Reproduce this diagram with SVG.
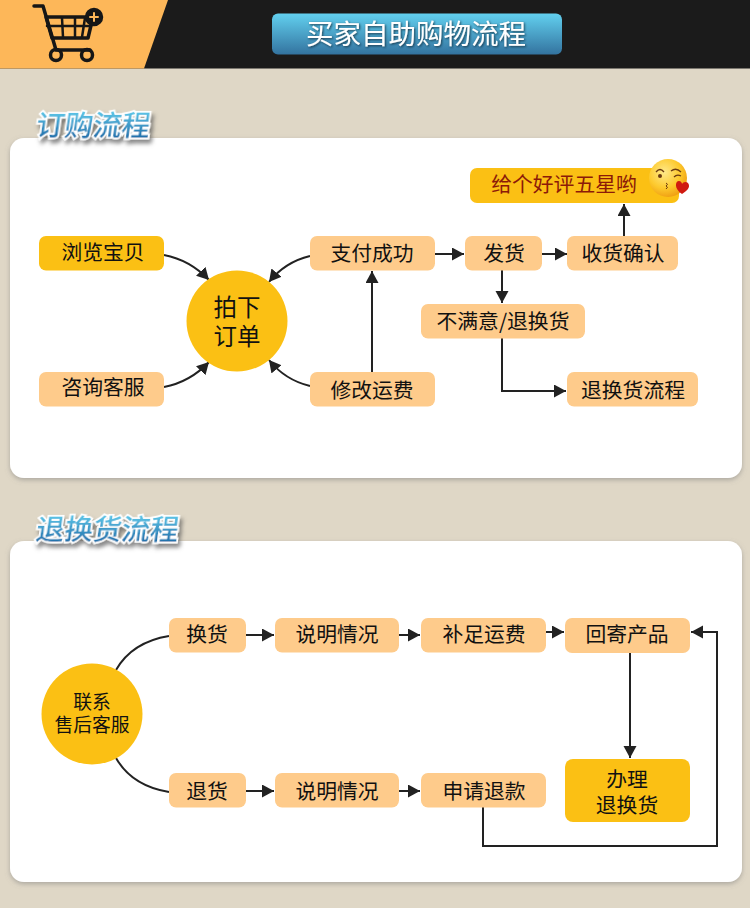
<svg xmlns="http://www.w3.org/2000/svg" width="750" height="908" viewBox="0 0 750 908">
<style>
text{font-family:"Noto Sans CJK SC","Liberation Serif",sans-serif;text-anchor:middle;fill:#111}
.t{font-size:20.800px}
.big{font-size:23.500px}
.soft{fill:#fecb8b}
.gold{fill:#fbc014}
.line{fill:none;stroke:#222;stroke-width:2}
.head{font-size:28.500px;font-weight:500;fill:url(#blue);stroke:#fff;stroke-width:3.500px;paint-order:stroke;filter:url(#shade)}
</style>
<defs>
<marker id="arrow" markerUnits="userSpaceOnUse" markerWidth="14" markerHeight="14" refX="12" refY="6.500" orient="auto"><path d="M0 0L12 6.500L0 13Z" fill="#222"/></marker>
<linearGradient id="blue" x1="0" y1="0" x2="0" y2="1"><stop offset="0" stop-color="#6fe2fb"/><stop offset="1" stop-color="#125a9c"/></linearGradient>
<linearGradient id="btn" x1="0" y1="0" x2="0" y2="1"><stop offset="0" stop-color="#62d0ef"/><stop offset="1" stop-color="#33739f"/></linearGradient>
<radialGradient id="face" cx=".4" cy=".35" r=".7"><stop offset="0" stop-color="#ffe98a"/><stop offset=".6" stop-color="#fdc92c"/><stop offset="1" stop-color="#ee9a10"/></radialGradient>
<filter id="shade" x="-10%" y="-20%" width="125%" height="150%"><feDropShadow dx="3" dy="4" stdDeviation="2" flood-color="#555" flood-opacity=".7"/></filter>
<filter id="panel" x="-5%" y="-5%" width="110%" height="110%"><feDropShadow dx="0" dy="2" stdDeviation="2.500" flood-color="#777" flood-opacity=".5"/></filter>
<filter id="glow" x="-5%" y="-10%" width="110%" height="125%"><feDropShadow dx="1" dy="1" stdDeviation=".8" flood-color="#123" flood-opacity=".8"/></filter>
</defs>
<rect width="750" height="908" fill="#dfd7c6"/>

<!-- header band -->
<g id="header">
<rect width="750" height="68.500" fill="#1b1b1b"/>
<path d="M0 0H168L144 68.500H0Z" fill="#fdb759"/>
<g id="cart" fill="none" stroke="#161616" stroke-width="3.500" stroke-linecap="round" stroke-linejoin="round">
<path d="M34 6H43L56 50H90"/>
<path d="M46 17H93L88 38H52Z"/>
<path d="M47 26H91M62 18L63 37M75 18V37M85 18L82 37" stroke-width="2.500"/>
<circle cx="56" cy="55" r="5.500"/><circle cx="87" cy="55" r="5.500"/>
<circle cx="94" cy="17" r="7.500" fill="#161616"/>
<path d="M90 17H98M94 13V21" stroke="#fdb759" stroke-width="2"/>
</g>
<rect x="272" y="13.500" width="290" height="41" rx="6" fill="url(#btn)"/>
<text x="416" y="44" style="font-size:27.500px;fill:#fff;filter:url(#glow)">买家自助购物流程</text>
</g>

<!-- white panels -->
<rect x="10" y="138" width="732" height="340" rx="14" fill="#fff" filter="url(#panel)"/>
<rect x="10" y="541" width="732" height="341" rx="14" fill="#fff" filter="url(#panel)"/>
<text class="head" x="92" y="136" transform="skewX(-8) translate(19 0)">订购流程</text>
<text class="head" x="106" y="540" transform="skewX(-8) translate(76 0)">退换货流程</text>

<!-- connectors -->
<g id="connectors">
<path class="line" marker-end="url(#arrow)" d="M164 255Q190 260 209 280"/>
<path class="line" marker-end="url(#arrow)" d="M164 387Q190 382 209 362"/>
<path class="line" marker-end="url(#arrow)" d="M310 256Q285 262 269 282"/>
<path class="line" marker-end="url(#arrow)" d="M310 386Q285 380 269 360"/>
<path class="line" marker-end="url(#arrow)" d="M372 372V271"/>
<path class="line" marker-end="url(#arrow)" d="M435 254H464"/>
<path class="line" marker-end="url(#arrow)" d="M542 254H567"/>
<path class="line" marker-end="url(#arrow)" d="M624 236V204"/>
<path class="line" marker-end="url(#arrow)" d="M502 270V303"/>
<path class="line" marker-end="url(#arrow)" d="M502 338V391H566"/>
<path class="line" d="M169 636Q132 642 116 670"/>
<path class="line" d="M169 792Q132 786 116 758"/>
<path class="line" marker-end="url(#arrow)" d="M246 635H274"/>
<path class="line" marker-end="url(#arrow)" d="M399 635H420"/>
<path class="line" marker-end="url(#arrow)" d="M546 632H564"/>
<path class="line" marker-end="url(#arrow)" d="M246 791H274"/>
<path class="line" marker-end="url(#arrow)" d="M399 791H420"/>
<path class="line" marker-end="url(#arrow)" d="M630 653V758"/>
<path class="line" marker-end="url(#arrow)" d="M483 807V846H717V632H691"/>
</g>

<!-- nodes -->
<g id="n-browse"><rect class="gold" x="39" y="236" width="125" height="34.500" rx="7"/><text class="t" x="103" y="260">浏览宝贝</text></g>
<g id="n-consult"><rect class="soft" x="39" y="372" width="125" height="34.500" rx="7"/><text class="t" x="103" y="395">咨询客服</text></g>
<g id="n-order"><circle class="gold" cx="237" cy="321" r="50.500"/><text class="big"><tspan x="237" y="316">拍下</tspan><tspan x="237" y="345">订单</tspan></text></g>
<g id="n-paid"><rect class="soft" x="310" y="236" width="125" height="34.500" rx="7"/><text class="t" x="372" y="261">支付成功</text></g>
<g id="n-fee"><rect class="soft" x="310" y="372" width="125" height="34.500" rx="7"/><text class="t" x="372" y="398">修改运费</text></g>
<g id="n-ship"><rect class="soft" x="465" y="236" width="77" height="34.500" rx="7"/><text class="t" x="504" y="261">发货</text></g>
<g id="n-confirm"><rect class="soft" x="567" y="236" width="111" height="34.500" rx="7"/><text class="t" x="623" y="261">收货确认</text></g>
<g id="n-unhappy"><rect class="soft" x="421" y="304" width="164" height="34.500" rx="7"/><text class="t" x="503" y="329">不满意/退换货</text></g>
<g id="n-returnflow"><rect class="soft" x="567" y="372" width="131" height="34.500" rx="7"/><text class="t" x="633" y="398">退换货流程</text></g>
<g id="n-review">
<rect class="gold" x="470" y="168" width="209" height="35" rx="7"/>
<text class="t" x="564" y="192" style="fill:#8c1a08">给个好评五星哟</text>
<circle cx="668" cy="178" r="19" fill="url(#face)"/>
<path d="M656 172Q660 167 664 172M671 171Q676 167 681 172" fill="none" stroke="#6b3a10" stroke-width="1.300"/>
<circle cx="660" cy="176" r="2" fill="#6b3a10"/>
<path d="M674 177Q677 174 681 176" fill="none" stroke="#6b3a10" stroke-width="1.300"/>
<path d="M666 183q3 1 0 3q3 1 0 3" fill="none" stroke="#6b3a10" stroke-width="1"/>
<path d="M682 194C674 189 675 181 679 181C681 181 682 183 682 184C683 182 686 181 688 183C691 187 687 191 682 194Z" fill="#d01a10"/>
</g>
<g id="n-service"><circle class="gold" cx="92" cy="714" r="50.500"/><text style="font-size:18.800px"><tspan x="92" y="709">联系</tspan><tspan x="92" y="732">售后客服</tspan></text></g>
<g id="n-exchange"><rect class="soft" x="169" y="618" width="77" height="34.500" rx="7"/><text class="t" x="207" y="642">换货</text></g>
<g id="n-explain1"><rect class="soft" x="275" y="618" width="124" height="34.500" rx="7"/><text class="t" x="337" y="642">说明情况</text></g>
<g id="n-topup"><rect class="soft" x="421" y="618" width="125" height="34.500" rx="7"/><text class="t" x="484" y="642">补足运费</text></g>
<g id="n-sendback"><rect class="soft" x="565" y="618" width="125" height="35" rx="7"/><text class="t" x="627" y="642">回寄产品</text></g>
<g id="n-refundgoods"><rect class="soft" x="169" y="773" width="77" height="34.500" rx="7"/><text class="t" x="207" y="799">退货</text></g>
<g id="n-explain2"><rect class="soft" x="275" y="773" width="124" height="34.500" rx="7"/><text class="t" x="337" y="799">说明情况</text></g>
<g id="n-refund"><rect class="soft" x="421" y="773" width="125" height="34.500" rx="7"/><text class="t" x="484" y="799">申请退款</text></g>
<g id="n-process"><rect class="gold" x="565" y="759" width="125" height="63" rx="8"/><text class="t"><tspan x="627" y="787">办理</tspan><tspan x="627" y="813">退换货</tspan></text></g>
</svg>
